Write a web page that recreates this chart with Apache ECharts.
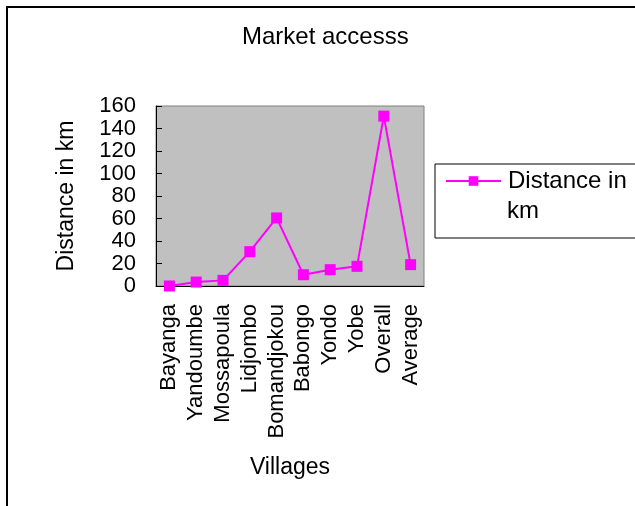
<!DOCTYPE html>
<html>
<head>
<meta charset="utf-8">
<script src="https://cdn.jsdelivr.net/npm/echarts@6/dist/echarts.min.js"></script>
<style>
  html, body { margin: 0; padding: 0; background: #fff; }
  #chart { width: 635px; height: 506px; }
</style>
</head>
<body>
<div id="chart"></div>
<script>
// Distance to market per village, in km
const villages = ['Bayanga', 'Yandoumbe', 'Mossapoula', 'Lidjombo', 'Bomandjokou',
                  'Babongo', 'Yondo', 'Yobe', 'Overall', 'Average'];
const distanceKm = [0, 3.5, 5, 30.5, 60.5, 10, 14.5, 17.5, 151, 19];
const seriesName = 'Distance in km';
const yTicks = { min: 0, max: 160, step: 20 };

const FONT = '"Liberation Sans", Arial, sans-serif';
const MAGENTA = '#ff00ff';

const chart = echarts.init(document.getElementById('chart'), null, { renderer: 'canvas' });

chart.setOption({
  backgroundColor: '#ffffff',
  animation: false,
  title: {
    text: 'Market accesss',
    left: 242,
    top: 25,
    padding: 0,
    textStyle: { fontFamily: FONT, fontSize: 24, fontWeight: 'normal', color: '#000' }
  },
  grid: {
    left: 156, right: 211, top: 106, bottom: 220,
    show: true,
    backgroundColor: '#c0c0c0',
    borderColor: '#808080',
    borderWidth: 1
  },
  legend: {
    left: 435,
    top: 164,
    orient: 'vertical',
    padding: [5, 40, 45, 10],
    borderColor: '#000',
    borderWidth: 1,
    itemWidth: 55,
    itemHeight: 12,
    formatter: () => 'Distance in',
    textStyle: { fontFamily: FONT, fontSize: 24, color: '#000', padding: [0, 0, 0, 2] },
    data: [seriesName]
  },
  xAxis: {
    type: 'category',
    data: villages,
    boundaryGap: true,
    name: 'Villages',
    nameLocation: 'middle',
    nameGap: 170,
    nameTextStyle: { fontFamily: FONT, fontSize: 23, color: '#000' },
    axisLine: { lineStyle: { color: '#000', width: 1 } },
    axisTick: { inside: true, length: 6, interval: 0, lineStyle: { color: '#000' } },
    axisLabel: {
      rotate: 90, interval: 0, margin: 18,
      fontFamily: FONT, fontSize: 22, color: '#000'
    },
    splitLine: { show: false }
  },
  yAxis: {
    type: 'value',
    min: yTicks.min,
    max: yTicks.max,
    interval: yTicks.step,
    name: seriesName,
    nameLocation: 'middle',
    nameRotate: 90,
    nameGap: 78,
    nameTextStyle: { fontFamily: FONT, fontSize: 23, color: '#000' },
    axisLine: { show: true, lineStyle: { color: '#000', width: 1 } },
    axisTick: { show: true, inside: true, length: 6, lineStyle: { color: '#000' } },
    axisLabel: { margin: 20, fontFamily: FONT, fontSize: 22, color: '#000' },
    splitLine: { show: false }
  },
  series: [{
    name: seriesName,
    type: 'line',
    data: distanceKm,
    symbol: 'rect',
    symbolSize: 11,
    showAllSymbol: true,
    lineStyle: { color: MAGENTA, width: 2 },
    itemStyle: { color: MAGENTA, borderWidth: 0 }
  }],
  graphic: [
    {
      // outer chart frame (continues past the right and bottom edges)
      type: 'rect',
      shape: { x: 7, y: 7, width: 800, height: 800 },
      style: { fill: 'none', stroke: '#000', lineWidth: 2 },
      silent: true
    },
    {
      // second line of the legend label
      type: 'text',
      left: 507,
      top: 199,
      style: { text: 'km', font: '24px ' + FONT, fill: '#000' },
      silent: true
    }
  ]
});
</script>
</body>
</html>
